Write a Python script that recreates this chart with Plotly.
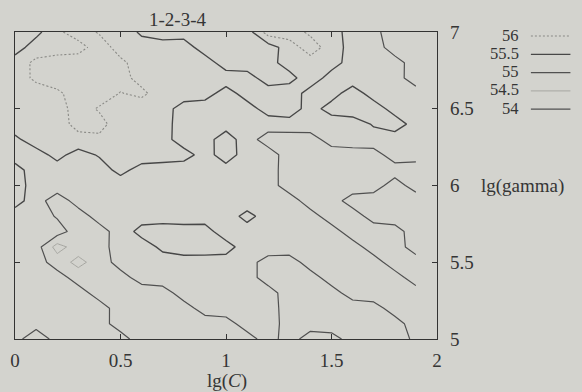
import plotly.graph_objects as go

# grid of the parameter search
lg_C = [0.0, 0.1, 0.2, 0.3, 0.4, 0.5, 0.6, 0.7, 0.8, 0.9,
        1.0, 1.1, 1.2, 1.3, 1.4, 1.5, 1.6, 1.7, 1.8, 1.9]
lg_gamma = [5.0, 5.1, 5.2, 5.3, 5.4, 5.5, 5.6, 5.7, 5.8, 5.9, 6.0,
            6.1, 6.2, 6.3, 6.4, 6.5, 6.6, 6.7, 6.8, 6.9, 7.0]

# cross-validation accuracy (%), one row per lg(gamma), columns follow lg_C
acc_g50 = [55.22, 54.6, 55.24, 55.3, 55.27, 55.2, 54.74, 54.7, 54.72, 54.78, 54.76, 54.8, 55.22, 54.76, 55.26, 55.2, 54.78, 54.72, 54.76, 55.1]
acc_g51 = [55.28, 55.25, 55.3, 55.26, 55.2, 54.78, 54.72, 54.7, 54.74, 54.76, 54.8, 55.22, 55.25, 54.78, 54.74, 54.7, 54.72, 54.76, 54.8, 55.24]
acc_g52 = [55.3, 55.26, 55.24, 55.28, 55.22, 54.76, 54.72, 54.74, 54.8, 55.2, 55.26, 55.28, 55.22, 54.78, 54.72, 54.7, 54.74, 54.8, 55.22, 55.26]
acc_g53 = [55.26, 55.3, 55.28, 55.22, 54.78, 54.74, 54.72, 54.78, 55.22, 55.28, 55.3, 55.26, 55.2, 54.76, 54.72, 54.8, 55.22, 55.28, 55.26, 55.22]
acc_g54 = [55.28, 55.3, 55.22, 54.78, 54.72, 54.8, 55.22, 55.28, 55.3, 55.26, 55.24, 55.2, 54.78, 54.74, 54.8, 55.22, 55.28, 55.26, 55.2, 54.76]
acc_g55 = [55.3, 55.24, 54.76, 54.35, 54.74, 55.2, 55.26, 55.3, 55.28, 55.26, 55.28, 55.2, 54.78, 54.76, 55.22, 55.28, 55.26, 55.2, 54.76, 54.74]
acc_g56 = [55.28, 55.22, 54.3, 54.75, 54.8, 55.24, 55.28, 55.6, 55.76, 55.78, 55.7, 55.24, 55.3, 55.28, 55.26, 55.22, 55.2, 54.78, 54.74, 55.26]
acc_g57 = [55.26, 55.3, 55.24, 54.74, 54.78, 55.25, 55.65, 55.78, 55.74, 55.7, 55.22, 55.28, 55.3, 55.26, 55.22, 55.2, 54.76, 54.72, 54.78, 55.28]
acc_g58 = [55.24, 55.28, 54.95, 54.74, 55.22, 55.26, 55.3, 55.24, 55.22, 55.28, 55.26, 55.65, 55.28, 55.24, 55.2, 54.76, 54.74, 55.22, 55.28, 55.3]
acc_g59 = [55.7, 55.24, 54.7, 55.22, 55.28, 55.3, 55.26, 55.24, 55.28, 55.3, 55.26, 55.22, 55.28, 55.24, 54.76, 54.78, 55.22, 55.26, 55.3, 55.28]
acc_g60 = [55.75, 55.26, 55.3, 55.28, 55.24, 55.22, 55.28, 55.3, 55.26, 55.22, 55.24, 55.3, 55.22, 54.76, 54.74, 54.8, 54.72, 54.78, 55.22, 54.78]
acc_g61 = [55.7, 55.24, 55.28, 55.3, 55.26, 55.65, 55.3, 55.26, 55.22, 55.28, 55.3, 55.24, 55.2, 54.78, 54.74, 54.72, 54.76, 54.8, 54.78, 54.76]
acc_g62 = [55.25, 55.3, 55.65, 55.3, 55.55, 55.75, 55.78, 55.74, 55.7, 55.3, 55.75, 55.26, 55.24, 54.76, 54.72, 54.74, 54.78, 54.8, 55.24, 55.2]
acc_g63 = [55.4, 55.75, 55.78, 55.85, 55.9, 55.76, 55.74, 55.7, 55.24, 55.3, 55.76, 55.22, 54.76, 54.74, 54.78, 55.22, 55.26, 55.28, 55.24, 55.26]
acc_g64 = [55.75, 55.78, 55.8, 56.15, 56.15, 55.76, 55.74, 55.7, 55.26, 55.3, 55.28, 55.24, 55.26, 55.3, 55.28, 55.22, 55.24, 55.55, 55.75, 55.3]
acc_g65 = [55.76, 55.74, 55.8, 56.2, 55.95, 55.76, 55.74, 55.7, 55.3, 55.24, 55.28, 55.3, 55.7, 55.76, 55.3, 55.7, 55.8, 55.76, 55.3, 55.26]
acc_g66 = [55.75, 55.76, 55.9, 56.25, 56.24, 55.98, 56.1, 55.76, 55.74, 55.7, 55.3, 55.7, 55.76, 55.85, 55.25, 55.3, 55.75, 55.28, 55.24, 55.22]
acc_g67 = [55.75, 56.1, 56.26, 56.25, 56.24, 56.15, 55.85, 55.76, 55.74, 55.78, 55.75, 55.72, 55.25, 55.3, 55.85, 55.25, 55.22, 55.26, 55.2, 54.75]
acc_g68 = [55.76, 56.1, 56.25, 56.28, 56.24, 56.1, 55.78, 55.74, 55.76, 55.75, 55.25, 55.22, 55.3, 55.75, 55.78, 55.74, 55.25, 55.28, 55.2, 54.76]
acc_g69 = [55.25, 55.76, 55.75, 55.8, 56.25, 55.8, 55.76, 55.74, 55.75, 55.25, 55.28, 55.22, 55.25, 55.75, 56.25, 55.76, 55.3, 55.25, 54.75, 54.74]
acc_g70 = [55.25, 55.35, 55.9, 56.25, 55.95, 55.85, 55.4, 55.25, 55.28, 55.22, 55.26, 55.25, 56.25, 56.25, 55.9, 55.75, 55.25, 55.1, 54.8, 54.75]

accuracy = [acc_g50, acc_g51, acc_g52, acc_g53, acc_g54, acc_g55, acc_g56,
            acc_g57, acc_g58, acc_g59, acc_g60, acc_g61, acc_g62, acc_g63,
            acc_g64, acc_g65, acc_g66, acc_g67, acc_g68, acc_g69, acc_g70]

# contour levels, listed top to bottom in the key
levels = [56, 55.5, 55, 54.5, 54]
level_labels = ["56", "55.5", "55", "54.5", "54"]

x_ticks = [0, 0.5, 1, 1.5, 2]
y_ticks = [5, 5.5, 6, 6.5, 7]

# line style per level (gnuplot-like line types after greyscale printing)
level_style = {
    56:   dict(color="#8a8a86", width=1.1, dash="2px,2px"),
    55.5: dict(color="#474747", width=1.35, dash="solid"),
    55:   dict(color="#505050", width=1.2, dash="solid"),
    54.5: dict(color="#a6a6a1", width=1.0, dash="solid"),
    54:   dict(color="#505050", width=1.2, dash="solid"),
}

BG = "#d3d3ce"
INK = "#353535"
FONT = "Liberation Serif"
FS = 19
FS_KEY = 16.5

fig = go.Figure()

for lv in levels:
    st = level_style[lv]
    fig.add_trace(go.Contour(
        x=lg_C, y=lg_gamma, z=accuracy,
        autocontour=False,
        contours=dict(start=lv, end=lv + 0.001, size=1, coloring="none"),
        line=dict(color=st["color"], width=st["width"], dash=st["dash"], smoothing=0),
        showscale=False, showlegend=False, hoverinfo="skip",
    ))

# plot-area geometry in pixels (used to place the key and labels)
W, H = 582, 392
L_M, R_M, T_M, B_M = 10, 145, 32, 53
pw, ph = W - L_M - R_M, H - T_M - B_M


def px_to_paper(px, py):
    return (px - L_M) / pw, (H - B_M - py) / ph


annotations = []
shapes = []

# key: label right-aligned, line sample to its right
row0, row_step = 35, 18.3
for k, (lv, lab) in enumerate(zip(levels, level_labels)):
    py = row0 + k * row_step
    tx, ty = px_to_paper(522, py)
    annotations.append(dict(x=tx, y=ty, xref="paper", yref="paper", text=lab,
                            showarrow=False, xanchor="right", yanchor="middle",
                            font=dict(family=FONT, size=FS_KEY, color=INK)))
    x0, y0 = px_to_paper(532, py + 1)
    x1, _ = px_to_paper(572, py + 1)
    st = level_style[lv]
    shapes.append(dict(type="line", xref="paper", yref="paper", x0=x0, x1=x1, y0=y0, y1=y0,
                       line=dict(color=st["color"], width=st["width"], dash=st["dash"])))

# title
tx, ty = px_to_paper(174, 20)
annotations.append(dict(x=tx, y=ty, xref="paper", yref="paper", text="1-2-3-4",
                        showarrow=False, xanchor="center", yanchor="middle",
                        font=dict(family=FONT, size=FS, color=INK)))
# x-axis label
tx, ty = px_to_paper(225, 381)
annotations.append(dict(x=tx, y=ty, xref="paper", yref="paper", text="lg(<i>C</i>)",
                        showarrow=False, xanchor="center", yanchor="middle",
                        font=dict(family=FONT, size=FS, color=INK)))
# y-axis label, set beside the right-hand tick labels
tx, _ = px_to_paper(479, 0)
annotations.append(dict(x=tx, y=6, xref="paper", yref="y", text="lg(gamma)",
                        showarrow=False, xanchor="left", yanchor="middle",
                        font=dict(family=FONT, size=FS, color=INK)))

axis_common = dict(showline=True, linecolor="#333333", linewidth=1.2, mirror="ticks",
                   ticks="inside", ticklen=5, tickwidth=1, tickcolor="#333333",
                   showgrid=False, zeroline=False,
                   tickfont=dict(family=FONT, size=FS, color=INK))

fig.update_layout(
    width=W, height=H,
    margin=dict(l=L_M, r=R_M, t=T_M, b=B_M, pad=0),
    paper_bgcolor=BG, plot_bgcolor=BG,
    xaxis=dict(range=[0, 2], tickvals=x_ticks, ticktext=[f"{v:g}" for v in x_ticks],
               ticklabelstandoff=4, **axis_common),
    yaxis=dict(range=[5, 7], side="right", tickvals=y_ticks,
               ticktext=[f"{v:g}" for v in y_ticks], ticklabelstandoff=8, **axis_common),
    annotations=annotations,
    shapes=shapes,
    showlegend=False,
)

fig.write_html("out.html")
